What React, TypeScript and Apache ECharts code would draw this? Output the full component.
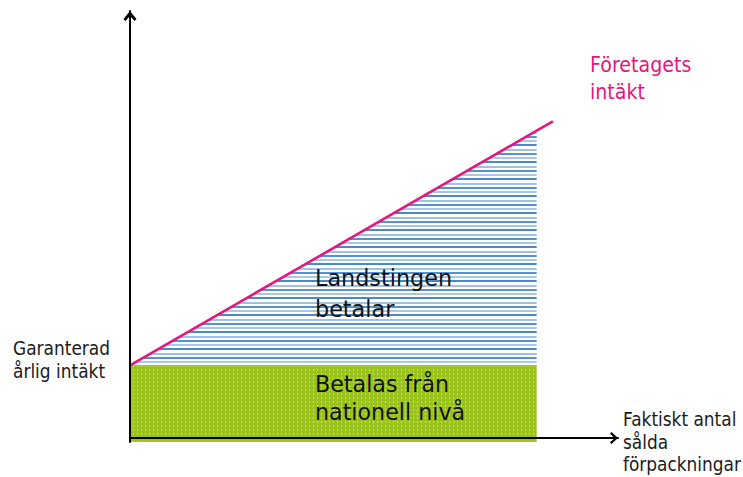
import React, { useEffect, useRef } from "react";
import * as echarts from "echarts";

// Data (arbitrary units of a conceptual diagram)
const salesX = [0, 100, 104]; // start, end of shaded areas, end of revenue line
const companyIncome = [18, 76.3, 78.6]; // revenue at those sales
const guaranteedIncome = 18;
const xExtent = [0, 120];
const yExtent = [-1, 106];

const labelCompany = ["Företagets", "intäkt"];
const labelGuaranteed = ["Garanterad", "årlig intäkt"];
const labelXAxis = ["Faktiskt antal", "sålda", "förpackningar"];
const labelCounty = ["Landstingen", "betalar"];
const labelNational = ["Betalas från", "nationell nivå"];

const PINK = "#e5167e";
const FONT = '"DejaVu Sans", Verdana, sans-serif';

function stripePattern() {
  const c = document.createElement("canvas");
  c.width = 4;
  c.height = 17;
  const g = c.getContext("2d")!;
  g.fillStyle = "#ffffff";
  g.fillRect(0, 0, 4, 17);
  g.fillStyle = "#5393cf";
  g.fillRect(0, 0, 4, 2);
  g.fillStyle = "#a8c8e8";
  g.fillRect(0, 4, 4, 2);
  g.fillStyle = "#4a89c8";
  g.fillRect(0, 8, 4, 2);
  g.fillStyle = "#9fc1e4";
  g.fillRect(0, 13, 4, 2);
  return { image: c.toDataURL(), repeat: "repeat", imageWidth: 4, imageHeight: 17 };
}

function dotPattern() {
  const c = document.createElement("canvas");
  c.width = 4;
  c.height = 4;
  const g = c.getContext("2d")!;
  g.fillStyle = "#9bc31e";
  g.fillRect(0, 0, 4, 4);
  g.fillStyle = "#c2dc72";
  g.fillRect(1, 1, 1, 2);
  return { image: c.toDataURL(), repeat: "repeat", imageWidth: 4, imageHeight: 4 };
}

function lines(
  texts: string[],
  x: number,
  ys: number[],
  size: number,
  color: string,
  scaleX = 1
) {
  return texts.map((t, i) => ({
    type: "text",
    x,
    y: ys[i],
    scaleX,
    z: 20,
    style: {
      text: t,
      fill: color,
      font: `${size}px ${FONT}`,
      verticalAlign: "middle",
      align: "left",
    },
  }));
}

export default function App() {
  const ref = useRef<HTMLDivElement>(null);
  useEffect(() => {
    if (!ref.current) return;
    const chart = echarts.init(ref.current, undefined, { renderer: "svg" });
    const areaTop = salesX.slice(0, 2).map((x, i) => [x, companyIncome[i]]);
    const revenue = salesX.map((x, i) => [x, companyIncome[i]]);
    const base = salesX.slice(0, 2).map((x) => [x, guaranteedIncome]);

    const axisCommon = {
      type: "value",
      axisTick: { show: false },
      axisLabel: { show: false },
      splitLine: { show: false },
      z: 10,
    };

    chart.setOption({
      animation: false,
      backgroundColor: "#ffffff",
      grid: { left: 130, right: 125, top: 11, bottom: 35 },
      xAxis: {
        ...axisCommon,
        min: xExtent[0],
        max: xExtent[1],
        axisLine: {
          show: true,
          onZero: true,
          symbol: ["none", "path://M6,0 L12,6.5 L10.3,8 L6,3.3 L1.7,8 L0,6.5 Z"],
          symbolSize: [12, 8],
          symbolOffset: [0, -4],
          lineStyle: { color: "#000", width: 2 },
        },
      },
      yAxis: {
        ...axisCommon,
        min: yExtent[0],
        max: yExtent[1],
        axisLine: {
          show: true,
          onZero: true,
          symbol: ["none", "path://M6.5,0 L13,8 L11,10 L6.5,5 L2,10 L0,8 Z"],
          symbolSize: [13, 10],
          symbolOffset: [0, -5],
          lineStyle: { color: "#000", width: 2 },
        },
      },
      series: [
        {
          type: "line",
          data: base,
          symbol: "none",
          lineStyle: { width: 0 },
          areaStyle: { color: dotPattern() as any, opacity: 1, origin: "start" },
          z: 1,
          silent: true,
        },
        {
          type: "line",
          data: areaTop,
          symbol: "none",
          lineStyle: { width: 0 },
          areaStyle: { color: stripePattern() as any, opacity: 1, origin: guaranteedIncome },
          z: 2,
          silent: true,
        },
        {
          type: "line",
          data: revenue,
          symbol: "none",
          lineStyle: { color: PINK, width: 2.6 },
          z: 3,
          silent: true,
        },
      ],
      graphic: [
        ...lines(labelCompany, 590, [65, 92], 20.5, PINK, 0.93),
        ...lines(labelGuaranteed, 13, [348, 371], 20, "#1a1a1a", 0.85),
        ...lines(labelXAxis, 623, [419, 442, 464], 19.5, "#1a1a1a", 0.87),
        ...lines(labelCounty, 315, [278, 309], 22.3, "#111111"),
        ...lines(labelNational, 315, [384, 412], 22.2, "#111111"),
      ],
    });
    return () => chart.dispose();
  }, []);
  return (
    <div
      ref={ref}
      style={{ position: "absolute", left: 0, top: 0, width: 743, height: 477 }}
    />
  );
}
